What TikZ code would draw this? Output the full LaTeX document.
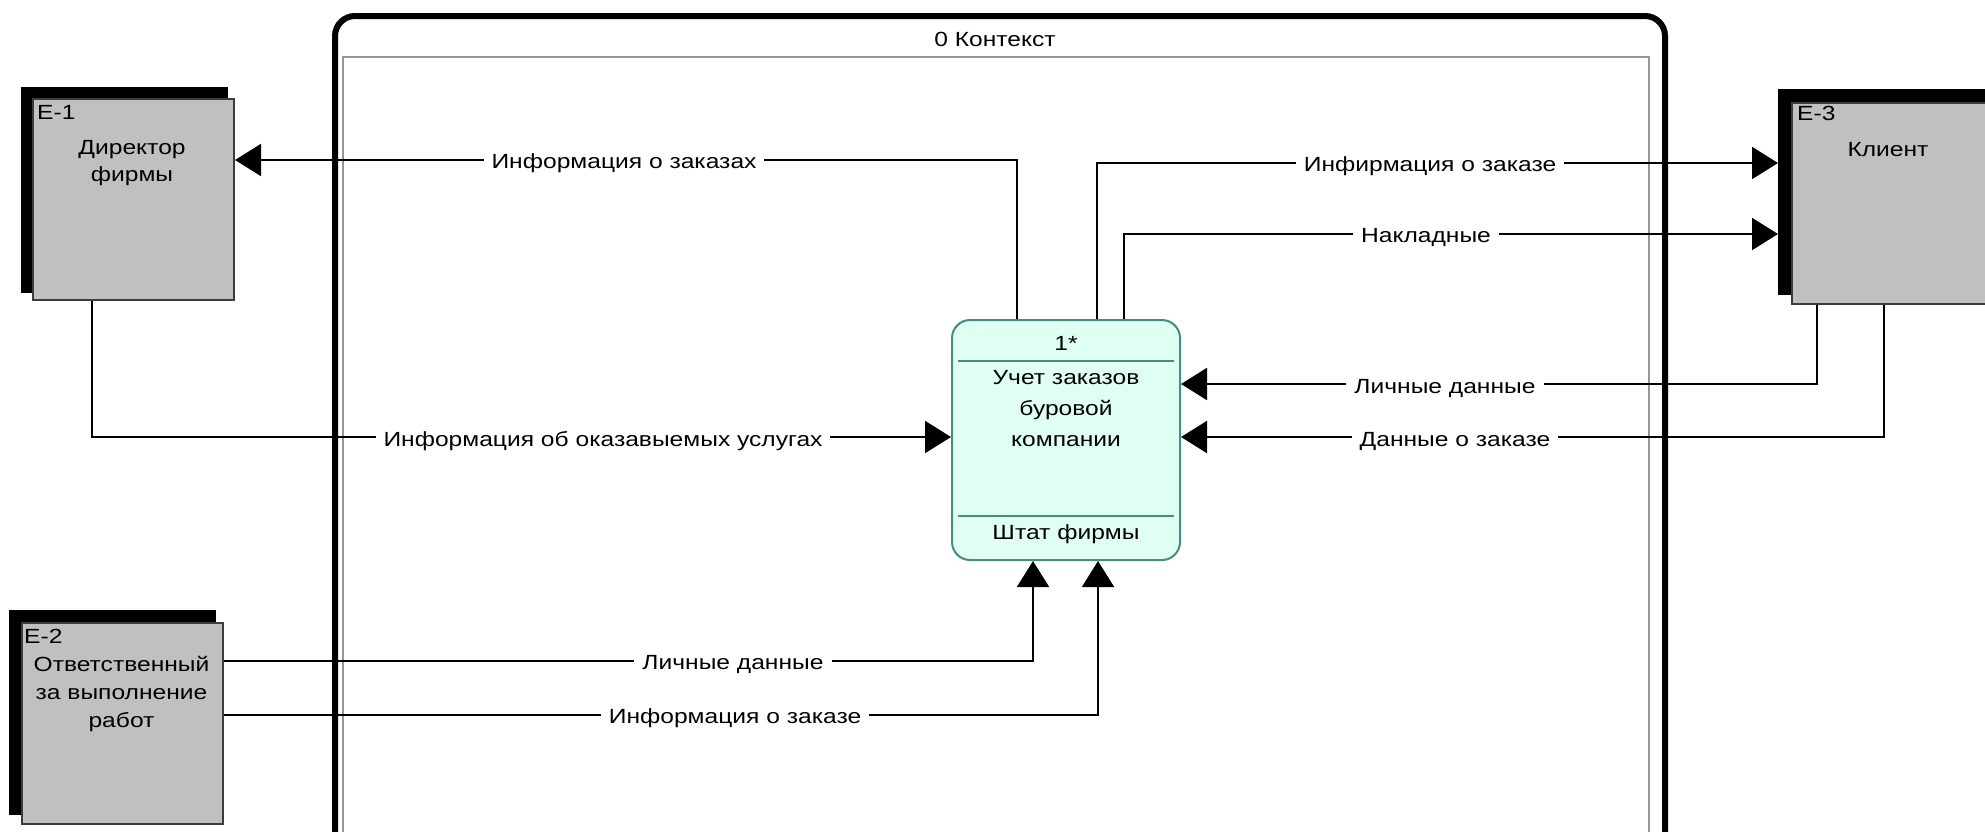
\documentclass[tikz,border=0pt]{standalone}
\usepackage{fontspec}
\setmainfont{Liberation Sans}[FakeStretch=1.2]
\usetikzlibrary{arrows.meta,calc}

\definecolor{entfill}{RGB}{192,192,192}
\definecolor{entline}{RGB}{60,60,60}
\definecolor{procfill}{RGB}{222,255,242}
\definecolor{procline}{RGB}{70,140,130}
\definecolor{framegray}{RGB}{150,150,150}

\newcommand{\dfdfont}{\fontsize{20.5}{27}\selectfont}

\begin{document}
\begin{tikzpicture}[x=1pt,y=-1pt,font=\dfdfont,
  flow/.style={line width=2pt,-{Triangle[length=26pt,width=32pt]}},
  lbl/.style={fill=white,inner xsep=8pt,inner ysep=2pt,anchor=base,text height=15pt,text depth=4pt},
  txt/.style={anchor=base,inner sep=0pt},
  entity/.style={draw=entline,line width=2pt,fill=entfill,anchor=north west,
                 minimum width=201pt,minimum height=201pt,inner sep=0pt},
  shadowbox/.style={fill=black,draw=none,anchor=north west,inner sep=0pt},
  process/.style={draw=procline,line width=2pt,fill=procfill,rounded corners=18pt,
                  minimum width=228pt,minimum height=240pt,inner sep=0pt},
  divider/.style={draw=procline,line width=2pt},
  outerframe/.style={draw=black,line width=6pt,rounded corners=20pt,anchor=north west,inner sep=0pt},
  innerframe/.style={draw=framegray,line width=1.5pt,anchor=north west,inner sep=0pt}
]
\useasboundingbox (0,0) rectangle (1985,831);
\clip (0,0) rectangle (1985,831);
\fill[white] (0,0) rectangle (1985,831);

% context frame
\node[outerframe,minimum width=1330pt,minimum height=900pt] (frame) at (332,13) {};
\node[innerframe,minimum width=1306pt,minimum height=860pt] (inner) at (342,56) {};
\node[txt] (title) at (995,46) {0 Контекст};

% external entities with their shadows
\node[shadowbox,minimum width=207pt,minimum height=206pt] (e1s) at (21,87) {};
\node[entity] (e1) at (32,98) {};
\node[txt,anchor=base west] (e1id) at (37,119) {E-1};
\node[txt] (e1a) at (132,154) {Директор};
\node[txt] (e1b) at (132,181) {фирмы};

\node[shadowbox,minimum width=207pt,minimum height=205pt] (e2s) at (9,610) {};
\node[entity] (e2) at (21,622) {};
\node[txt,anchor=base west] (e2id) at (24,643) {E-2};
\node[txt] (e2a) at (121.5,671) {Ответственный};
\node[txt] (e2b) at (121.5,699) {за выполнение};
\node[txt] (e2c) at (121.5,727) {работ};

\node[shadowbox,minimum width=207pt,minimum height=206pt] (e3s) at (1778,89) {};
\node[entity] (e3) at (1791,102) {};
\node[txt,anchor=base west] (e3id) at (1797,120) {E-3};
\node[txt] (e3a) at (1888,156) {Клиент};

% process
\node[process] (p) at (1066,440) {};
\node[txt] (pnum) at (1066,350) {1*};
\draw[divider] ($(p.north west)+(7,42)$) -- ($(p.north east)+(-7,42)$);
\node[txt] (pa) at (1066,384) {Учет заказов};
\node[txt] (pb) at (1066,415.5) {буровой};
\node[txt] (pc) at (1066,446) {компании};
\draw[divider] ($(p.north west)+(7,197)$) -- ($(p.north east)+(-7,197)$);
\node[txt] (pd) at (1066,539) {Штат фирмы};

% data flows
\draw[flow] ($(p.north west)+(66,0)$) |- ($(e1.north east)+(0,62)$);
\draw[flow] ($(p.north west)+(146,0)$) |- ($(e3s.north west)+(0,74)$);
\draw[flow] ($(p.north west)+(173,0)$) |- ($(e3s.north west)+(0,145)$);
\draw[flow] ($(e3.south west)+(26,0)$) |- ($(p.north east)+(0,65)$);
\draw[flow] ($(e3.south west)+(93,0)$) |- ($(p.north east)+(0,118)$);
\draw[flow] ($(e1.south west)+(60,0)$) |- ($(p.north west)+(0,118)$);
\draw[flow] ($(e2.north east)+(0,39)$) -| ($(p.south west)+(82,0)$);
\draw[flow] ($(e2.north east)+(0,93)$) -| ($(p.south west)+(147,0)$);

% flow labels
\node[lbl] (l1) at (624,168.5) {Информация о заказах};
\node[lbl] (l2) at (1430,171.5) {Инфирмация о заказе};
\node[lbl] (l3) at (1426,242.5) {Накладные};
\node[lbl] (l4) at (1445,393.5) {Личные данные};
\node[lbl] (l5) at (1455,446.5) {Данные о заказе};
\node[lbl] (l6) at (603,446.5) {Информация об оказавыемых услугах};
\node[lbl] (l7) at (733,669.5) {Личные данные};
\node[lbl] (l8) at (735,723.5) {Информация о заказе};
\end{tikzpicture}
\end{document}
